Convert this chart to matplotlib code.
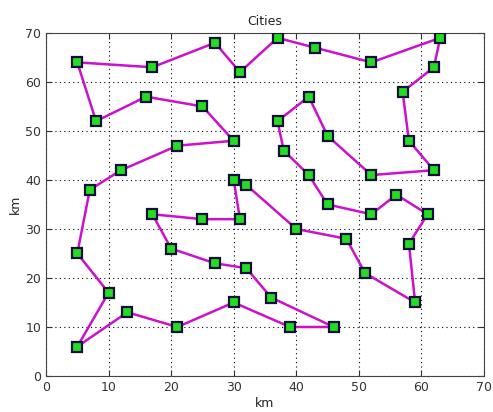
import numpy as np
import matplotlib
matplotlib.use('Agg')
import matplotlib.pyplot as plt

# tour order of the cities (km), closed loop
city_x = [5, 17, 27, 31, 37, 43, 52, 63, 62, 57, 58, 62, 52, 45, 42, 37, 38, 42,
          45, 52, 56, 61, 58, 59, 51, 48, 40, 32, 30, 31, 25, 17, 20, 27, 32, 36,
          46, 39, 30, 21, 13, 5, 10, 5, 7, 12, 21, 30, 25, 16, 8]
city_y = [64, 63, 68, 62, 69, 67, 64, 69, 63, 58, 48, 42, 41, 49, 57, 52, 46, 41,
          35, 33, 37, 33, 27, 15, 21, 28, 30, 39, 40, 32, 32, 33, 26, 23, 22, 16,
          10, 10, 15, 10, 13, 6, 17, 25, 38, 42, 47, 48, 55, 57, 52]
x_ticks = [0, 10, 20, 30, 40, 50, 60, 70]
y_ticks = [0, 10, 20, 30, 40, 50, 60, 70]

tour_x = city_x + [city_x[0]]
tour_y = city_y + [city_y[0]]

fig = plt.figure(figsize=(4.93, 4.12), dpi=100)
ax = fig.add_axes([0.0933, 0.0874, 0.8884, 0.8326])

ax.plot(tour_x, tour_y, color='#cc11cc', linewidth=1.8, zorder=2)
ax.plot(city_x, city_y, linestyle='none', marker='s', markersize=7,
        markerfacecolor='#22dd22', markeredgecolor='#101038',
        markeredgewidth=1.6, zorder=3)

ax.set_xlim(0, 70)
ax.set_ylim(0, 70)
ax.set_xticks(x_ticks)
ax.set_yticks(y_ticks)
ax.tick_params(direction='in', length=4, labelsize=9, colors='#333333',
               top=True, right=True)
ax.grid(True, linestyle=(0, (1, 3)), color='black', linewidth=0.8)
for s in ax.spines.values():
    s.set_color('#444444')
    s.set_linewidth(0.8)

ax.set_title('Cities', fontsize=9, color='#222222', pad=6)
ax.set_xlabel('km', fontsize=9, color='#222222', labelpad=2)
ax.set_ylabel('km', fontsize=9, color='#222222', labelpad=2)

fig.savefig('out.png', dpi=100)
